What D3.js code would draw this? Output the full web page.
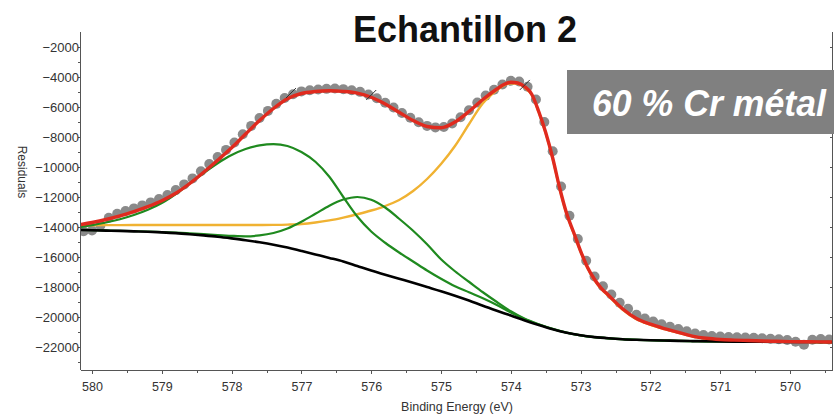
<!DOCTYPE html>
<html>
<head>
<meta charset="utf-8">
<script src="https://cdn.jsdelivr.net/npm/d3@7"></script>
<style>
  body { margin: 0; background: #fff; }
  svg { display: block; }
  .axis text { font-family: "Liberation Sans", Arial, sans-serif; fill: #333; }
  .axis path, .axis line { stroke: #555; shape-rendering: crispEdges; }
</style>
</head>
<body>
<svg id="chart" width="834" height="416"></svg>
<script>
// Cr 2p3/2 region, fitted components on a Shirley-type background
const compEnergy = [580.2,580.0,579.8,579.6,579.4,579.2,579.0,578.8,578.6,578.4,
  578.2,578.0,577.8,577.6,577.4,577.2,577.0,576.8,576.6,576.4,
  576.2,576.0,575.8,575.6,575.4,575.2,575.0,574.8,574.6,574.4,
  574.2,574.0,573.8,573.6,573.4,573.2,573.0,572.8,572.6,572.4,
  572.2,572.0,571.8,571.6,571.4,571.2,571.0,570.8,570.6,570.4,
  570.2,570.0,569.8,569.6,569.4];

const background = [-14200,-14220,-14240,-14260,-14290,-14320,-14360,-14410,-14480,-14560,
  -14650,-14760,-14880,-15020,-15180,-15370,-15600,-15830,-16060,-16300,
  -16600,-16900,-17180,-17450,-17720,-18000,-18280,-18580,-18900,-19250,
  -19580,-19900,-20230,-20540,-20820,-21050,-21220,-21340,-21420,-21480,
  -21520,-21550,-21570,-21590,-21605,-21620,-21630,-21640,-21645,-21650,
  -21655,-21660,-21665,-21668,-21670];

const oxidePeakA = [-14030,-13880,-13700,-13480,-13200,-12850,-12400,-11800,-11100,-10400,
  -9750,-9200,-8800,-8560,-8470,-8600,-9000,-9650,-10650,-12000,
  -13300,-14300,-15050,-15700,-16300,-16900,-17450,-17950,-18350,-18750,
  -19200,-19700,-20150,-20500,-20800,-21050,-21220,-21340,-21420,-21480,
  -21520,-21550,-21570,-21590,-21605,-21620,-21630,-21640,-21645,-21650,
  -21655,-21660,-21665,-21668,-21670];

const oxidePeakB = [-14190,-14210,-14230,-14250,-14275,-14300,-14335,-14375,-14425,-14480,
  -14540,-14590,-14620,-14560,-14400,-14100,-13650,-13120,-12580,-12170,
  -12000,-12180,-12700,-13450,-14250,-15150,-16150,-16950,-17650,-18350,
  -19000,-19620,-20120,-20480,-20790,-21040,-21220,-21340,-21420,-21480,
  -21520,-21550,-21570,-21590,-21605,-21620,-21630,-21640,-21645,-21650,
  -21655,-21660,-21665,-21668,-21670];

const fitEnergy = [580.2,580.0,579.8,579.6,579.4,579.2,579.0,578.8,578.6,578.4,
  578.2,578.0,577.8,577.6,577.4,577.2,577.0,576.8,576.6,576.4,
  576.2,576.0,575.8,575.6,575.4,575.2,575.0,574.8,574.6,574.4,
  574.2,
  574.1,574.0,573.9,573.8,573.7,573.6,573.5,573.4,573.3,573.2,573.1,573.0,572.9,572.8,572.7,
  572.6,572.4,572.2,572.0,571.8,571.6,571.4,571.2,571.0,570.8,570.6,570.4,570.2,570.0,569.8,569.6,569.4];

const envelope = [-13870,-13700,-13500,-13260,-12970,-12640,-12250,-11750,-11100,-10350,
  -9550,-8720,-7800,-6900,-6100,-5450,-5100,-4970,-4920,-4960,
  -5070,-5350,-5800,-6350,-6900,-7300,-7380,-7000,-6300,-5500,
  -4800,
  -4500,-4350,-4400,-4650,-5150,-6300,-7700,-9400,-11400,-13100,-14350,-15600,-16700,-17500,-18100,
  -18550,-19450,-20100,-20480,-20770,-21020,-21270,-21420,-21500,-21540,-21570,-21600,-21620,-21640,-21650,-21658,-21665];

const metalPeak = [-13880,-13880,-13875,-13875,-13870,-13870,-13870,-13870,-13870,-13870,
  -13870,-13870,-13870,-13870,-13860,-13840,-13800,-13700,-13560,-13370,
  -13150,-12900,-12600,-12200,-11600,-10800,-9800,-8600,-7150,-5750,
  -4880,
  -4560,-4420,-4460,-4710,-5200,-6350,-7750,-9450,-11450,-13150,-14400,-15650,-16750,-17550,-18150,
  -18600,-19500,-20150,-20520,-20800,-21050,-21290,-21440,-21515,-21555,-21585,-21610,-21630,-21650,-21660,-21665,-21670];

const dataEnergy = [580.12,580.00,579.88,579.76,579.64,579.52,579.40,579.28,579.16,579.04,
  578.92,578.80,578.68,578.56,578.44,578.32,578.20,578.08,577.96,577.84,
  577.72,577.60,577.48,577.36,577.24,577.12,577.00,576.88,576.76,576.64,
  576.52,576.40,576.28,576.16,576.04,575.92,575.80,575.68,575.56,575.44,
  575.32,575.20,575.08,574.96,574.84,574.72,574.60,574.48,574.36,574.24,
  574.12,574.00,573.88,573.76,573.64,573.52,573.40,573.28,573.16,573.04,
  572.92,572.80,572.68,572.56,572.44,572.32,572.20,572.08,571.96,571.84,
  571.72,571.60,571.48,571.36,571.24,571.12,571.00,570.88,570.76,570.64,
  570.52,570.40,570.28,570.16,570.04,569.92,569.80,569.68,569.56,569.44];

const dataCounts = [-14280,-14230,-13900,-13380,-13120,-12930,-12760,-12560,-12360,-12140,
  -11870,-11540,-11160,-10760,-10280,-9800,-9330,-8860,-8370,-7820,
  -7260,-6730,-6260,-5790,-5400,-5150,-4960,-4880,-4830,-4790,
  -4770,-4810,-4880,-4990,-5170,-5420,-5720,-6030,-6400,-6720,
  -7020,-7260,-7360,-7330,-7100,-6680,-6220,-5700,-5240,-4850,
  -4500,-4250,-4300,-4650,-5500,-7000,-8950,-11300,-13250,-14800,
  -16250,-17300,-17950,-18500,-19050,-19450,-19850,-20100,-20300,-20480,
  -20650,-20800,-20950,-21100,-21200,-21270,-21300,-21330,-21350,-21370,
  -21390,-21420,-21450,-21480,-21530,-21650,-21850,-21520,-21470,-21500];

// small region markers sitting on the envelope
const markerEnergy = [577.15, 576.0, 573.8];
const markerValue = [-5070, -5200, -4530];

const xTicks = [580, 579, 578, 577, 576, 575, 574, 573, 572, 571, 570];
const xMinorTicks = [579.5, 578.5, 577.5, 576.5, 575.5, 574.5, 573.5, 572.5, 571.5, 570.5, 569.5];
const yTicks = [-2000, -4000, -6000, -8000, -10000, -12000, -14000, -16000, -18000, -20000, -22000];
const yMinorTicks = [-3000, -5000, -7000, -9000, -11000, -13000, -15000, -17000, -19000, -21000, -23000];

const titleText = "Echantillon 2";
const badgeText = "60 % Cr métal";
const xLabel = "Binding Energy (eV)";
const yLabel = "Residuals";

const svg = d3.select("#chart");
const plotLeft = 81, plotRight = 832.5, plotTop = 32, plotBottom = 370;

const x = d3.scaleLinear().domain([580.158, 569.384]).range([plotLeft, 833]);
const y = d3.scaleLinear().domain([-1000, -23533]).range([plotTop, plotBottom]);

svg.append("defs").append("clipPath").attr("id", "plot")
  .append("rect").attr("x", plotLeft).attr("y", plotTop)
  .attr("width", plotRight - plotLeft).attr("height", plotBottom - plotTop);

const plot = svg.append("g").attr("clip-path", "url(#plot)");

const line = (ex, vals) => d3.line()
  .x((d, i) => x(ex[i]))
  .y(d => y(d))
  .curve(d3.curveMonotoneX)(vals);

// measured points
plot.append("g").selectAll("circle").data(dataCounts).join("circle")
  .attr("cx", (d, i) => x(dataEnergy[i]))
  .attr("cy", d => y(d))
  .attr("r", 5)
  .attr("fill", "#8a8a8a");

// components
plot.append("path").attr("d", line(fitEnergy, metalPeak))
  .attr("fill", "none").attr("stroke", "#f0b232").attr("stroke-width", 2.4);
plot.append("path").attr("d", line(compEnergy, oxidePeakA))
  .attr("fill", "none").attr("stroke", "#1f8a1f").attr("stroke-width", 2.2);
plot.append("path").attr("d", line(compEnergy, oxidePeakB))
  .attr("fill", "none").attr("stroke", "#1f8a1f").attr("stroke-width", 2.2);
plot.append("path").attr("d", line(compEnergy, background))
  .attr("fill", "none").attr("stroke", "#000").attr("stroke-width", 2.6);

// envelope
plot.append("path").attr("d", line(fitEnergy, envelope))
  .attr("fill", "none").attr("stroke", "#e02a1e").attr("stroke-width", 3.4);

plot.append("g").selectAll("line").data(markerEnergy).join("line")
  .attr("x1", d => x(d) - 5).attr("x2", d => x(d) + 5)
  .attr("y1", (d, i) => y(markerValue[i]) + 5).attr("y2", (d, i) => y(markerValue[i]) - 5)
  .attr("stroke", "#333").attr("stroke-width", 1);

// axes
const xAxis = svg.append("g").attr("class", "axis").attr("transform", `translate(0,${plotBottom})`)
  .call(d3.axisBottom(x).tickValues(xTicks).tickFormat(d3.format("d")).tickSize(4).tickPadding(8));
xAxis.selectAll("text").attr("font-size", "12.5px");
xAxis.select(".domain").attr("d", `M${plotLeft},0.5H${plotRight}`);
svg.append("g").attr("class", "axis").attr("transform", `translate(0,${plotBottom})`)
  .call(d3.axisBottom(x).tickValues(xMinorTicks).tickFormat("").tickSize(3))
  .select(".domain").remove();

const yAxis = svg.append("g").attr("class", "axis").attr("transform", `translate(${plotLeft},0)`)
  .call(d3.axisLeft(y).tickValues(yTicks).tickFormat(d3.format("d")).tickSize(3).tickPadding(-1));
yAxis.selectAll("text").attr("font-size", "13px");
yAxis.select(".domain").attr("d", `M-0.5,${plotTop}V${plotBottom}`);
svg.append("g").attr("class", "axis").attr("transform", `translate(${plotLeft},0)`)
  .call(d3.axisLeft(y).tickValues(yMinorTicks).tickFormat("").tickSize(3))
  .select(".domain").remove();

// right frame with inward ticks
const yRight = svg.append("g").attr("class", "axis").attr("transform", `translate(${plotRight},0)`)
  .call(d3.axisLeft(y).tickValues(yTicks).tickFormat("").tickSize(3));
yRight.select(".domain").attr("d", `M0,${plotTop}V${plotBottom}`).attr("stroke", "#888");

// labels
svg.append("text").attr("x", 457).attr("y", 411).attr("text-anchor", "middle")
  .attr("font-family", "Liberation Sans, Arial, sans-serif").attr("font-size", "12.5px")
  .attr("fill", "#333").text(xLabel);
svg.append("text").attr("transform", "translate(18,172) rotate(90)").attr("text-anchor", "middle")
  .attr("font-family", "Liberation Sans, Arial, sans-serif").attr("font-size", "12px")
  .attr("fill", "#333").text(yLabel);

svg.append("text").attr("x", 465).attr("y", 42).attr("text-anchor", "middle")
  .attr("font-family", "Liberation Sans, Arial, sans-serif").attr("font-weight", "bold")
  .attr("font-size", "36px").attr("fill", "#111").text(titleText);

svg.append("rect").attr("x", 567).attr("y", 70).attr("width", 267).attr("height", 64).attr("fill", "#808080");
svg.append("text").attr("x", 592).attr("y", 116)
  .attr("font-family", "Liberation Sans, Arial, sans-serif").attr("font-weight", "bold")
  .attr("font-style", "italic").attr("font-size", "37px").attr("fill", "#fff")
  .attr("textLength", 234).attr("lengthAdjust", "spacingAndGlyphs").text(badgeText);
</script>
</body>
</html>
